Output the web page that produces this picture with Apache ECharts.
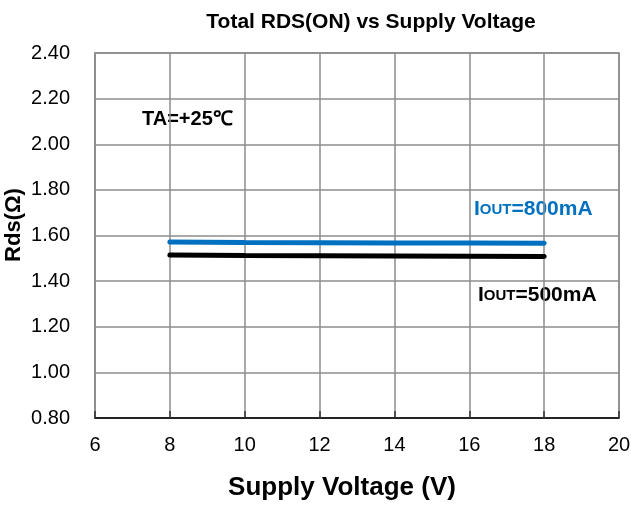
<!DOCTYPE html>
<html>
<head>
<meta charset="utf-8">
<script src="https://cdn.jsdelivr.net/npm/echarts@6/dist/echarts.min.js"></script>
<style>
  html, body { margin: 0; padding: 0; background: #fff; }
  #main { width: 631px; height: 505px; }
</style>
</head>
<body>
<div id="main"></div>
<script>
// supply voltage points (V)
const voltages = [8, 10, 12, 14, 16, 18];
// Rds(on) readings (ohm)
const rds800 = [1.571, 1.569, 1.568, 1.567, 1.567, 1.566];
const rds500 = [1.514, 1.512, 1.511, 1.510, 1.509, 1.508];
const xTicks = [6, 8, 10, 12, 14, 16, 18, 20];
const yTicks = [0.8, 1.0, 1.2, 1.4, 1.6, 1.8, 2.0, 2.2, 2.4];

const font = 'Liberation Sans, Arial, sans-serif';
const gridColor = '#8c8c8c';
const chart = echarts.init(document.getElementById('main'));

const toPairs = (xs, ys) => xs.map((x, i) => [x, ys[i]]);

// "I" + smaller "OUT" sitting on the same baseline
const ioutLabel = (val, color) => ({
  type: 'text',
  style: {
    text: '{a|I}{b|OUT}{a|=' + val + '}',
    rich: {
      a: { fontFamily: font, fontSize: 21, fontWeight: 'bold', fill: color, lineHeight: 21 },
      b: { fontFamily: font, fontSize: 15, fontWeight: 'bold', fill: color, lineHeight: 16,
           verticalAlign: 'bottom', padding: [0, 0, 3, 0] }
    }
  }
});

chart.setOption({
  animation: false,
  title: {
    text: 'Total RDS(ON) vs Supply Voltage',
    left: 366, top: 7, textAlign: 'center',
    textStyle: { fontFamily: font, fontSize: 21, fontWeight: 'bold', color: '#000' }
  },
  grid: { left: 95, right: 12, top: 53, bottom: 87, outerBoundsMode: 'none', containLabel: false },
  xAxis: {
    type: 'value',
    min: xTicks[0], max: xTicks[xTicks.length - 1], interval: 2,
    name: 'Supply Voltage (V)',
    nameLocation: 'middle', nameGap: 57,
    nameTextStyle: { fontFamily: font, fontSize: 26, fontWeight: 'bold', color: '#000', padding: [0, 30, 0, 0] },
    axisLine: { lineStyle: { color: '#000', width: 1.5 } },
    axisTick: { show: true, length: 7, inside: true, lineStyle: { color: '#333', width: 1.5 } },
    axisLabel: { fontFamily: font, fontSize: 20, color: '#000', margin: 17 },
    splitLine: { show: true, lineStyle: { color: gridColor, width: 1.5 } }
  },
  yAxis: {
    type: 'value',
    min: yTicks[0], max: yTicks[yTicks.length - 1], interval: 0.2,
    axisLine: { show: true, lineStyle: { color: gridColor, width: 1.5 } },
    axisTick: { show: false },
    axisLabel: {
      fontFamily: font, fontSize: 20, color: '#000', margin: 25,
      formatter: v => v.toFixed(2)
    },
    splitLine: { show: true, lineStyle: { color: gridColor, width: 1.5 } }
  },
  graphic: [
    // right and top border of the plot box
    { type: 'rect', shape: { x: 95, y: 53, width: 524, height: 365 },
      style: { fill: 'none', stroke: gridColor, lineWidth: 1.5 }, silent: true, z: 0 },
    // y axis title
    { type: 'text', x: 14, y: 225, rotation: Math.PI / 2,
      style: { text: 'Rds(Ω)', fontFamily: font, fontSize: 22, fontWeight: 'bold', fill: '#000',
               align: 'center', verticalAlign: 'middle' } },
    Object.assign(ioutLabel('800mA', '#0070C0'), { left: 474, top: 199 }),
    Object.assign(ioutLabel('500mA', '#000'), { left: 478, top: 285 }),
    { type: 'text', left: 142, top: 109,
      style: { text: 'TA=+25℃', fontFamily: font, fontSize: 20, fontWeight: 'bold', fill: '#000' } }
  ],
  series: [
    {
      name: 'IOUT=800mA', type: 'line', data: toPairs(voltages, rds800),
      symbol: 'none', lineStyle: { color: '#0070C0', width: 5, cap: 'round' }, z: 3
    },
    {
      name: 'IOUT=500mA', type: 'line', data: toPairs(voltages, rds500),
      symbol: 'none', lineStyle: { color: '#000', width: 5, cap: 'round' }, z: 3
    }
  ]
});
</script>
</body>
</html>
